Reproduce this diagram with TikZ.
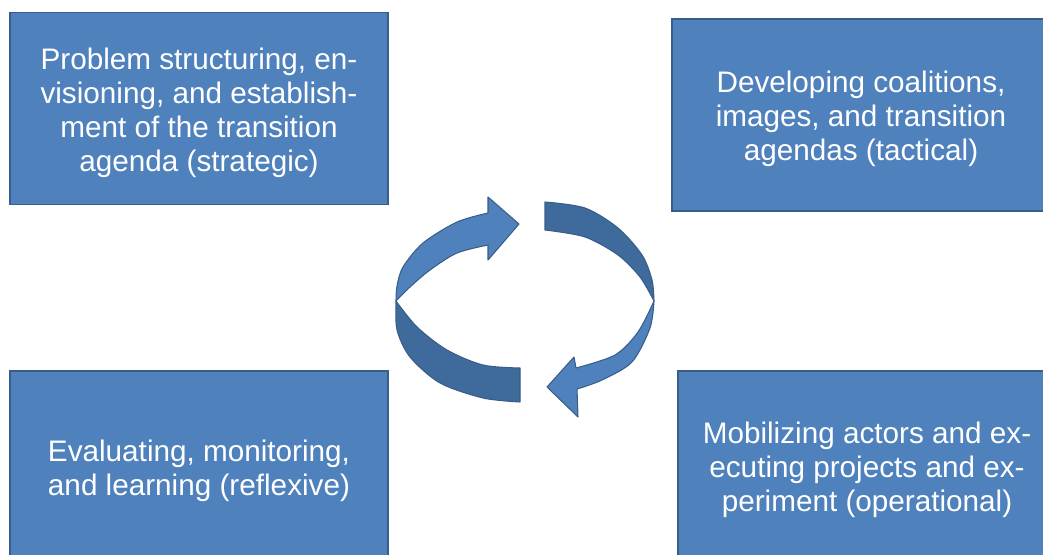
\documentclass[tikz,border=0pt]{standalone}
\usepackage{fontspec}
\setmainfont{Liberation Sans}
\usepackage{tikz}
\definecolor{stagec}{HTML}{4F81BD}
\definecolor{edgec}{HTML}{385D8A}
\definecolor{backc}{HTML}{3F6A9C}

\begin{document}
\begin{tikzpicture}[x=0.02cm, y=-0.02cm, font=\fontsize{16.9}{19.4}\selectfont,
    stage/.style={draw=edgec, line width=1.1pt, fill=stagec, text=white, align=center,
      inner sep=0pt, minimum width=7.56cm, minimum height=3.84cm},
    front/.style={fill=stagec, draw=edgec, line width=0.6pt, line join=round},
    back/.style={fill=backc, draw=edgec, line width=0.6pt, line join=round}]
  \useasboundingbox (0,0) rectangle (1043,554);
  \clip (0,0) rectangle (1043,554);

  \node[stage] (strat) at (199,108.5) {\\[-2.6pt]Problem structuring, en-\\visioning, and establish-\\ment of the transition\\agenda (strategic)};
  \node[stage] (tact) at (861,115) {\\[-2.6pt]Developing coalitions,\\images, and transition\\agendas (tactical)};
  \node[stage] (oper) at (867,467) {\\[-3.8pt]Mobilizing actors and ex-\\ecuting projects and ex-\\periment (operational)};
  \node[stage] (refl) at (199,467) {\\[-2.6pt]Evaluating, monitoring,\\and learning (reflexive)};

  % left half of the cycle: front face on top, back face below the twist
  \draw[front] (488,213) -- (488,197) -- (519,224) -- (488,260) -- (488,245)
     -- plot[smooth] coordinates {(488,245) (457,253) (430,270) (410,287) (396,301)}
     -- plot[smooth] coordinates {(396,301) (397,286) (403,267) (423,243) (457,222) (488,213)} -- cycle;
  \draw[back] plot[smooth] coordinates {(396,301) (397,330) (410,357) (440,383) (483,398) (520,402)}
     -- plot[smooth] coordinates {(520,368) (483,365) (447,350) (417,327) (396,301)} -- cycle;

  % right half: back face on top, front face with the head below
  \draw[back] plot[smooth] coordinates {(545,202) (585,208) (618,228) (642,255) (652,280) (654,301)}
     -- plot[smooth] coordinates {(654,301) (640,277) (618,255) (585,237) (545,230)} -- cycle;
  \draw[front] plot[smooth] coordinates {(654,301) (650,328) (632,362) (602,380) (577,389)}
     -- (578,417) -- (547,387) -- (574,357) -- (576,368)
     -- plot[smooth] coordinates {(576,368) (615,355) (638,332) (654,301)} -- cycle;
\end{tikzpicture}
\end{document}
